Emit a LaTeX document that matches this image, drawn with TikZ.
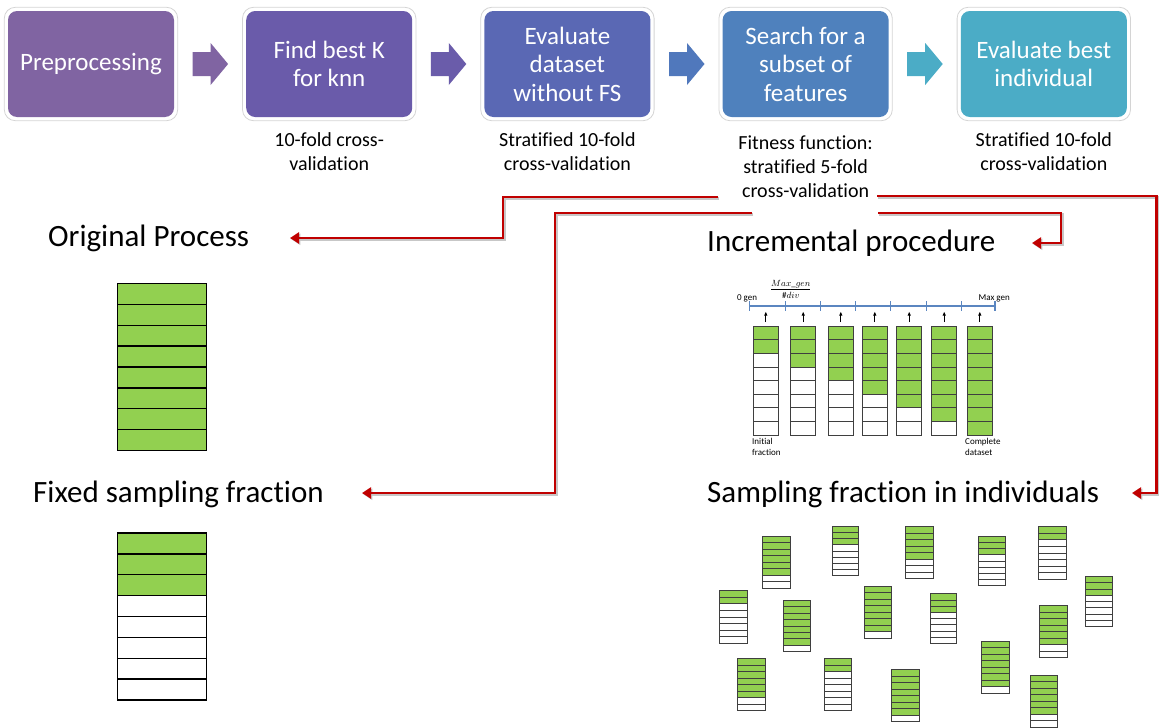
\documentclass[tikz,border=0pt]{standalone}
\usepackage{fontspec}
\setmainfont{Carlito}[Ligatures=NoCommon]
\usetikzlibrary{arrows.meta,fit,calc}

\definecolor{boxA}{HTML}{8064A2}
\definecolor{boxB}{HTML}{6A5BAA}
\definecolor{boxC}{HTML}{5A68B4}
\definecolor{boxD}{HTML}{4F81BD}
\definecolor{boxE}{HTML}{4BACC6}
\definecolor{flowA}{HTML}{8064A2}
\definecolor{flowB}{HTML}{6A5CAA}
\definecolor{flowC}{HTML}{5078BC}
\definecolor{flowD}{HTML}{4BACC6}
\definecolor{rimgray}{HTML}{D4D4D4}
\definecolor{linkred}{HTML}{C00000}
\definecolor{cellgreen}{HTML}{92D050}
\definecolor{axisblue}{HTML}{5B86C0}
\definecolor{cellline}{HTML}{3F3F3F}

% a column of #5 cells from (#1,#2), width #3, height #4, top #6 cells green
\newcommand\cellstack[7]{%
  \pgfmathsetmacro\rowh{#4/#5}%
  \foreach \k in {1,...,#5}{%
    \pgfmathsetmacro\ya{#2+(\k-1)*\rowh}%
    \pgfmathsetmacro\yb{#2+\k*\rowh}%
    \ifnum\k>#6 \def\cellfill{white}\else\def\cellfill{cellgreen}\fi
    \draw[#7, fill=\cellfill] (#1,\ya) rectangle (#1+#3,\yb);
  }%
}

% block arrow centred on #1 with colour #2
\newcommand\flowarrow[2]{%
  \fill[#2] ([shift={(-17.5,-12)}]#1) -- ++(18,0) -- ++(0,-9) -- ++(17.5,21)
    -- ++(-17.5,21) -- ++(0,-9) -- ++(-18,0) -- cycle;
}

\begin{document}
\begin{tikzpicture}[x=1pt,y=-1pt,
  stepbox/.style={rounded corners=9pt, minimum width=166pt, minimum height=106pt,
    inner sep=0pt, text=white, align=center, font=\fontsize{25}{28.5}\selectfont},
  rim/.style={draw=rimgray, line width=0.8pt, rounded corners=11pt, inner sep=3.5pt},
  note/.style={align=center, font=\fontsize{20}{24}\selectfont, inner sep=0pt},
  heading/.style={font=\fontsize{31}{36}\selectfont, inner sep=0pt, anchor=west},
  tiny/.style={font=\fontsize{9}{11.5}\selectfont, inner sep=0pt, align=left},
  redline/.style={draw=linkred, line width=2.6pt, -{Triangle[length=9pt,width=11pt]},
    preaction={draw=black!22, line width=2.6pt,
      transform canvas={shift={(1.3pt,-1.3pt)}}}},
  bigcell/.style={draw=black, line width=1.4pt},
  midcell/.style={draw=cellline, line width=0.7pt},
  smallcell/.style={draw=cellline, line width=0.6pt},
  uparrow/.style={-{Latex[length=4pt,width=3.5pt]}, line width=0.8pt}]
\useasboundingbox (0,0) rectangle (1159,728);

% ---- pipeline steps ----
\node[stepbox, fill=boxA] (pre) at (91,64) {Preprocessing};
\node[stepbox, fill=boxB] (knn) at (329.2,64) {Find best K\\for knn};
\node[stepbox, fill=boxC] (base) at (567.4,64) {Evaluate\\dataset\\without FS};
\node[stepbox, fill=boxD] (search) at (805.6,64) {Search for a\\subset of\\features};
\node[stepbox, fill=boxE] (best) at (1043.8,64) {Evaluate best\\individual};
\foreach \n in {pre,knn,base,search,best}
  \node[rim, fit=(\n)] (\n-rim) {};

\path ($(pre.east)!0.5!(knn.west)$) coordinate (a1)
      ($(knn.east)!0.5!(base.west)$) coordinate (a2)
      ($(base.east)!0.5!(search.west)$) coordinate (a3)
      ($(search.east)!0.5!(best.west)$) coordinate (a4);
\flowarrow{a1}{flowA}
\flowarrow{a2}{flowB}
\flowarrow{a3}{flowC}
\flowarrow{a4}{flowD}

\node[note] (knn-note) at (329.2,151.5) {10-fold cross-\\validation};
\node[note] (base-note) at (567.4,151.5) {Stratified 10-fold\\cross-validation};
\node[note] (search-note) at (805.6,167) {Fitness function:\\stratified 5-fold\\cross-validation};
\node[note] (best-note) at (1043.8,151.5) {Stratified 10-fold\\cross-validation};

% ---- variants ----
\node[heading] (orig) at (48,238) {Original Process};
\node[heading] (fixed) at (33,494) {Fixed sampling fraction};
\node[heading] (incr) at (707,243) {Incremental procedure};
\node[heading] (indiv) at (707,494) {Sampling fraction in individuals};

\coordinate (sA) at (718,197);
\coordinate (sB) at (752,213);
\coordinate (sC) at (877,196);
\coordinate (sD) at (878,213);
\coordinate (tA) at (290,238);
\coordinate (tB) at (362,493);
\coordinate (tC) at (1132,493);
\coordinate (tD) at (1032,243);
\draw[redline] (sA) -- ++(-215,0) |- (tA);
\draw[redline] (sB) -- ++(-197,0) |- (tB);
\draw[redline] (sC) -- ++(279.5,0) |- (tC);
\draw[redline] (sD) -- ++(183,0) |- (tD);

% ---- original process and fixed fraction ----
\cellstack{117.5}{283.5}{89}{167}{8}{8}{bigcell}
\cellstack{117.5}{533}{89}{167}{8}{3}{bigcell}

% ---- incremental procedure ----
\draw[axisblue, line width=1.1pt] (749.3,306) -- (995,306);
\foreach \tx in {749.3,785.7,820.7,855.7,890.7,926.7,961.7,995}
  \draw[axisblue, line width=1.1pt] (\tx,301) -- (\tx,311);
\node[tiny, anchor=south] (gen0) at (747,302) {0 gen};
\node[tiny, anchor=south east] (genmax) at (1010,302) {Max gen};
\node[inner sep=0pt, font=\fontsize{9}{10}\selectfont] (divlabel) at (790.8,289)
  {$\displaystyle\frac{Max\_gen}{\#div}$};
\foreach \cx/\g in {753.3/2,790.7/3,828.3/4,862.3/5,896.7/6,931.7/7,967.3/8}{
  \draw[uparrow] (\cx+12.5,322) -- (\cx+12.5,311.5);
  \cellstack{\cx}{326}{25}{109}{8}{\g}{midcell}
}
\node[tiny, anchor=north west] (initlabel) at (752,438) {Initial\\fraction};
\node[tiny, anchor=north west] (fulllabel) at (965,438) {Complete\\dataset};

% ---- individuals with their own fractions ----
\cellstack{762.7}{536}{28}{52}{8}{6}{smallcell}
\cellstack{832.3}{526}{26.4}{49.7}{8}{3}{smallcell}
\cellstack{905.7}{526.7}{28}{51.6}{8}{5}{smallcell}
\cellstack{978.7}{536}{27}{49.7}{8}{3}{smallcell}
\cellstack{1038.3}{526.7}{28}{52.3}{8}{2}{smallcell}
\cellstack{1085.7}{576.3}{26.3}{50}{8}{3}{smallcell}
\cellstack{719}{590.7}{28}{52.3}{8}{2}{smallcell}
\cellstack{783}{600}{27.7}{51.7}{8}{7}{smallcell}
\cellstack{864}{586.3}{27.3}{51.7}{8}{7}{smallcell}
\cellstack{930.3}{593.7}{26.4}{49.6}{8}{3}{smallcell}
\cellstack{1039}{605.3}{28}{52}{8}{6}{smallcell}
\cellstack{737.7}{658.3}{28}{52}{8}{6}{smallcell}
\cellstack{824}{658.3}{27.7}{52}{8}{2}{smallcell}
\cellstack{891.7}{669.3}{27.6}{52}{8}{7}{smallcell}
\cellstack{981.3}{641}{27.7}{52}{8}{7}{smallcell}
\cellstack{1030}{675}{27.7}{52.3}{8}{6}{smallcell}
\end{tikzpicture}
\end{document}
